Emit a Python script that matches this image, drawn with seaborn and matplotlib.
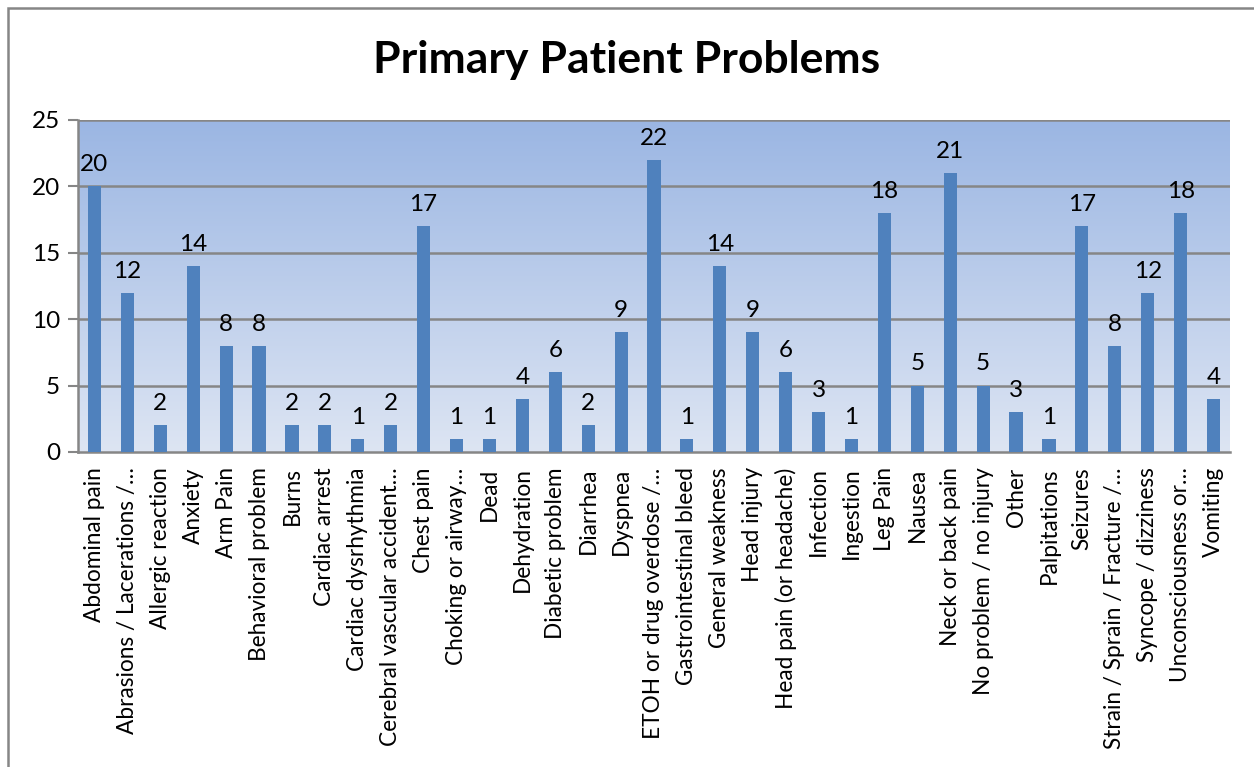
import numpy as np
import pandas as pd
import matplotlib
matplotlib.use("Agg")
import matplotlib.pyplot as plt
from matplotlib.colors import LinearSegmentedColormap
from matplotlib.patches import Rectangle
import seaborn as sns

# chart data
problems = [
    "Abdominal pain", "Abrasions / Lacerations /…", "Allergic reaction", "Anxiety",
    "Arm Pain", "Behavioral problem", "Burns", "Cardiac arrest", "Cardiac dysrhythmia",
    "Cerebral vascular accident…", "Chest pain", "Choking or airway…", "Dead",
    "Dehydration", "Diabetic problem", "Diarrhea", "Dyspnea", "ETOH or drug overdose /…",
    "Gastrointestinal bleed", "General weakness", "Head injury", "Head pain (or headache)",
    "Infection", "Ingestion", "Leg Pain", "Nausea", "Neck or back pain",
    "No problem / no injury", "Other", "Palpitations", "Seizures",
    "Strain / Sprain / Fracture /…", "Syncope / dizziness", "Unconsciousness or…", "Vomiting",
]
counts = [20, 12, 2, 14, 8, 8, 2, 2, 1, 2, 17, 1, 1, 4, 6, 2, 9, 22, 1, 14, 9, 6,
          3, 1, 18, 5, 21, 5, 3, 1, 17, 8, 12, 18, 4]
y_ticks = [0, 5, 10, 15, 20, 25]

df = pd.DataFrame({"problem": problems, "count": counts})

sns.set_style("white")
plt.rcParams["font.family"] = ["Lato", "DejaVu Sans"]
plt.rcParams["text.color"] = "black"
plt.rcParams["xtick.labelcolor"] = "black"
plt.rcParams["ytick.labelcolor"] = "black"

grey = "#868686"
fig = plt.figure(figsize=(12.54, 7.67), dpi=100)
ax = fig.add_axes([78 / 1254, 1 - 452 / 767, (1230 - 78) / 1254, (452 - 120) / 767])

# gradient background of the plot area
cmap = LinearSegmentedColormap.from_list("bg", ["#dde5f3", "#9bb6e3"])
grad = np.linspace(0, 1, 256).reshape(-1, 1)
ax.imshow(grad, extent=[0, 1, 0, 1], transform=ax.transAxes, cmap=cmap,
          origin="lower", aspect="auto", zorder=0)

sns.barplot(data=df, x="problem", y="count", color="#4f81bd", saturation=1,
            width=0.4, linewidth=0, ax=ax, zorder=3)

ax.set_xlim(-0.5, len(problems) - 0.5)
ax.set_ylim(0, 25)
ax.set_yticks(y_ticks)
ax.set_xlabel("")
ax.set_ylabel("")

for y in y_ticks[1:]:
    ax.axhline(y, color=grey, lw=1.8, zorder=2)

for c in ax.containers:
    ax.bar_label(c, padding=8, fontsize=17.5, color="black")

ax.set_xticks(np.arange(len(problems)))
ax.set_xticklabels(problems, rotation=90, fontsize=16.3, ha="center", va="top")
ax.set_xticks(np.arange(-0.5, len(problems)), minor=True)
ax.tick_params(axis="x", which="major", length=0, pad=11)
ax.tick_params(axis="x", which="minor", length=7, width=1.5, color=grey, direction="out")
ax.tick_params(axis="y", length=7, width=1.5, color=grey, labelsize=17.5, pad=6, left=True)

for side in ["top", "right"]:
    ax.spines[side].set_visible(False)
for side in ["left", "bottom"]:
    ax.spines[side].set_color(grey)
    ax.spines[side].set_linewidth(1.8)

fig.suptitle("Primary Patient Problems", fontsize=32, fontweight="bold",
             color="black", y=1 - 60 / 767, va="center")

# outer chart border (only top and left edges fall inside the picture)
fig.add_artist(Rectangle((8 / 1254, -0.5), 2, 1.5 - 8 / 767, transform=fig.transFigure,
                         fill=False, edgecolor=grey, lw=1.8))

fig.savefig("out.png", dpi=100, facecolor="white")
